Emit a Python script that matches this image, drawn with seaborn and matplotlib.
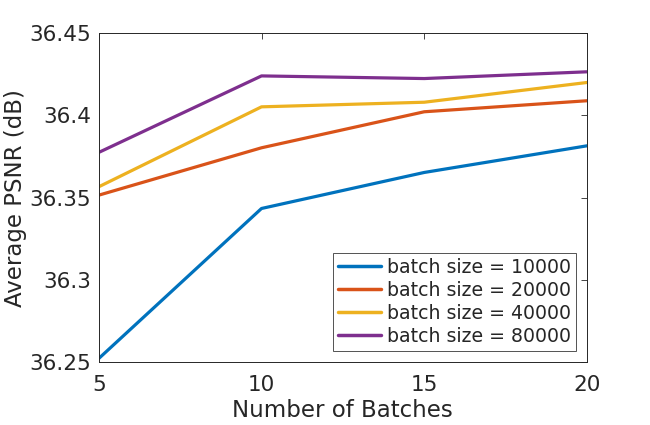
import pandas as pd
import matplotlib
matplotlib.use("Agg")
import matplotlib.pyplot as plt
import seaborn as sns
from matplotlib.ticker import FuncFormatter

# data
num_batches = [5, 10, 15, 20]
psnr_10000 = [36.2522, 36.3434, 36.3653, 36.3815]
psnr_20000 = [36.3515, 36.3803, 36.4022, 36.4089]
psnr_40000 = [36.3566, 36.4052, 36.4080, 36.4200]
psnr_80000 = [36.3775, 36.4240, 36.4224, 36.4265]
labels = ["batch size = 10000", "batch size = 20000",
          "batch size = 40000", "batch size = 80000"]
colors = ["#0072BD", "#D95319", "#EDB120", "#7E2F8E"]

rows = []
for lab, vals in zip(labels, [psnr_10000, psnr_20000, psnr_40000, psnr_80000]):
    for x, y in zip(num_batches, vals):
        rows.append({"batches": x, "psnr": y, "series": lab})
df = pd.DataFrame(rows)

sns.set_style("white")
plt.rcParams["font.family"] = ["DejaVu Sans"]
txt = "#262626"

fig = plt.figure(figsize=(6.5, 4.25), dpi=100)
ax = fig.add_axes([0.152, 0.148, 0.751, 0.774])
sns.lineplot(data=df, x="batches", y="psnr", hue="series",
             palette=colors, linewidth=2.3, ax=ax)

ax.set_xlim(5, 20)
ax.set_ylim(36.25, 36.45)
ax.set_xticks([5, 10, 15, 20])
ax.set_yticks([36.25, 36.3, 36.35, 36.4, 36.45])
ax.yaxis.set_major_formatter(FuncFormatter(lambda v, p: f"{v:g}"))
ax.tick_params(direction="in", length=4, width=0.6, colors=txt,
               labelsize=15.5, top=True, right=True, pad=5.5)
ax.tick_params(axis="x", pad=9)
for s in ax.spines.values():
    s.set_color(txt)
    s.set_linewidth(0.7)
ax.set_xlabel("Number of Batches", fontsize=16.5, color=txt, labelpad=3)
ax.set_ylabel("Average PSNR (dB)", fontsize=16.5, color=txt, labelpad=1.5)

leg = ax.legend(loc="lower right", fontsize=13.6, frameon=True, fancybox=False,
                handlelength=2.3, handletextpad=0.3, borderpad=0.25,
                labelspacing=0.22, borderaxespad=0.6)
leg.get_frame().set_edgecolor(txt)
leg.get_frame().set_linewidth(0.7)
for line in leg.get_lines():
    line.set_linewidth(2.5)

fig.savefig("out.png", dpi=100)
